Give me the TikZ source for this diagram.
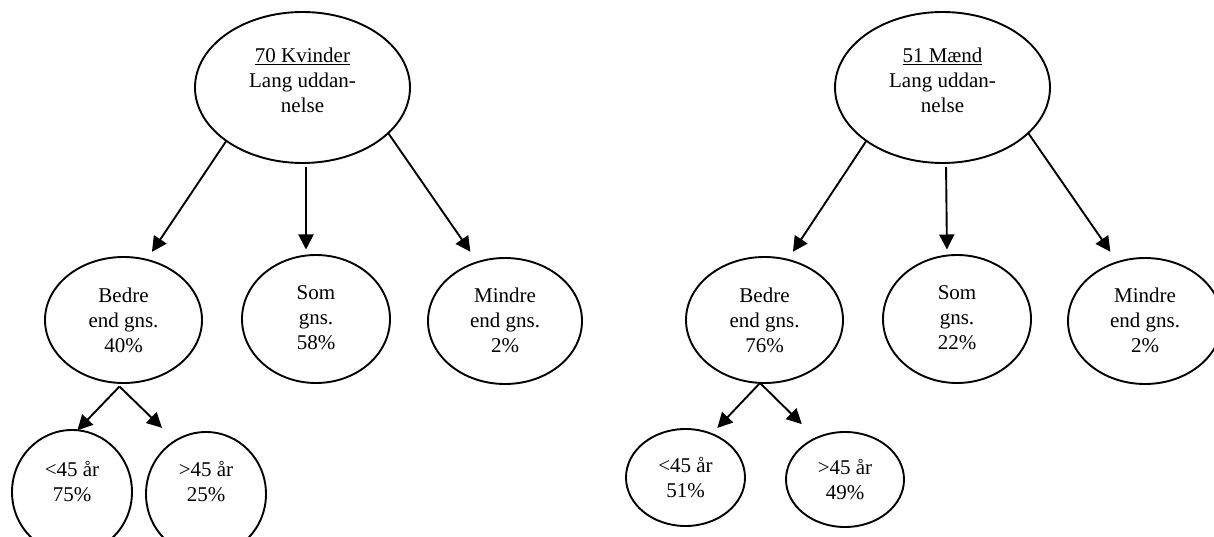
\documentclass[tikz,border=0pt]{standalone}
\usepackage{fontspec}
\setmainfont{Liberation Serif}
\usetikzlibrary{shapes.geometric,arrows.meta}

\begin{document}
\begin{tikzpicture}[x=1pt,y=-1pt,
  oval/.style={draw, ellipse, line width=1.9pt, inner sep=0pt, outer sep=0pt},
  lbl/.style={align=center, inner sep=0pt, font=\fontsize{21}{25}\selectfont},
  arr/.style={line width=1.9pt, -{Triangle[length=15pt,width=15pt]}}]
\useasboundingbox (0,0) rectangle (1214,537);

% --- women, long education ---
\node[oval, minimum width=215pt, minimum height=151pt] (K)  at (302.5,87.5) {};
\node[oval, minimum width=157pt, minimum height=126pt] (KB) at (123.5,320) {};
\node[oval, minimum width=148pt, minimum height=128pt] (KS) at (316,319) {};
\node[oval, minimum width=154pt, minimum height=126pt] (KM) at (505,321) {};
\node[oval, minimum width=120pt, minimum height=124pt] (K1) at (72,492) {};
\node[oval, minimum width=120pt, minimum height=124pt] (K2) at (206,494) {};

\node[lbl] (Kt)  at ([yshift=7pt]K.center) {\underline{70 Kvinder}\\Lang uddan-\\nelse};
\node[lbl] (KBt) at (KB.center) {Bedre\\end gns.\\40\%};
\node[lbl] (KSt) at ([yshift=1pt]KS.center) {Som\\gns.\\58\%};
\node[lbl] (KMt) at ([yshift=1pt]KM.center) {Mindre\\end gns.\\2\%};
\node[lbl] (K1t) at ([yshift=10.5pt]K1.center) {<45 år\\75\%};
\node[lbl] (K2t) at ([yshift=12.5pt]K2.center) {>45 år\\25\%};

\draw[arr, shorten >=9.6pt] (K.215) -- (KB.69);
\draw[arr, shorten <=4pt, shorten >=5.5pt] ([xshift=3.5pt]K.south) -- ([xshift=-10pt]KS.north);
\draw[arr, shorten >=12.6pt] (K.-28) -- (KM.115);
\draw[arr] ([xshift=-4pt,yshift=-3.5pt]KB.south) -- (K1.85);
\draw[arr, shorten >=18.5pt] ([xshift=-4pt,yshift=-3.5pt]KB.south) -- (K2.120);

% --- men, long education ---
\node[oval, minimum width=215pt, minimum height=151pt] (R)  at (942.5,87.5) {};
\node[oval, minimum width=157pt, minimum height=126pt] (RB) at (764.5,320) {};
\node[oval, minimum width=148pt, minimum height=128pt] (RS) at (957,319) {};
\node[oval, minimum width=154pt, minimum height=126pt] (RM) at (1145,321) {};
\node[oval, minimum width=119pt, minimum height=97pt]  (M1) at (685.5,477.5) {};
\node[oval, minimum width=118pt, minimum height=95pt]  (M2) at (845,479.5) {};

\node[lbl] (Rt)  at ([yshift=7pt]R.center) {\underline{51 Mænd}\\Lang uddan-\\nelse};
\node[lbl] (RBt) at (RB.center) {Bedre\\end gns.\\76\%};
\node[lbl] (RSt) at ([yshift=1pt]RS.center) {Som\\gns.\\22\%};
\node[lbl] (RMt) at ([yshift=1pt]RM.center) {Mindre\\end gns.\\2\%};
\node[lbl] (M1t) at (M1.center) {<45 år\\51\%};
\node[lbl] (M2t) at (M2.center) {>45 år\\49\%};

\draw[arr, shorten >=9.6pt] (R.215) -- (RB.69);
\draw[arr, shorten <=4pt, shorten >=5.5pt] ([xshift=3.5pt]R.south) -- ([xshift=-10pt]RS.north);
\draw[arr, shorten >=12.6pt] (R.-28) -- (RM.115);
\draw[arr, shorten >=8.2pt] ([xshift=-4.5pt]RB.south) -- (M1.59);
\draw[arr, shorten >=20pt] ([xshift=-4.5pt]RB.south) -- (M2.125);
\end{tikzpicture}
\end{document}
